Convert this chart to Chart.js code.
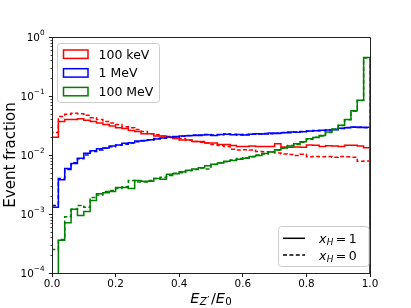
<!DOCTYPE html>
<html><head><meta charset="utf-8">
<script src="https://cdn.jsdelivr.net/npm/chart.js@4.4.0/dist/chart.umd.min.js"></script>
<style>html,body{margin:0;padding:0;background:#fff;}canvas{display:block;}</style>
</head><body>
<canvas id="c" width="411" height="308"></canvas>
<script>
// ---- data ----
const binEdges = [0.00,0.02,0.04,0.06,0.08,0.10,0.12,0.14,0.16,0.18,0.20,0.22,0.24,0.26,0.28,0.30,0.32,0.34,0.36,0.38,0.40,0.42,0.44,0.46,0.48,0.50,0.52,0.54,0.56,0.58,0.60,0.62,0.64,0.66,0.68,0.70,0.72,0.74,0.76,0.78,0.80,0.82,0.84,0.86,0.88,0.90,0.92,0.94,0.96,0.98,1.00];

const keV100_xH1 = [0.020,0.037,0.040,0.040,0.041,0.039,0.037,0.035,0.033,0.031,0.029,0.028,0.026,0.025,0.023,0.023,0.021,0.021,0.020,0.019,0.018,0.018,0.017,0.017,0.016,0.016,0.015,0.015,0.0145,0.014,0.014,0.0142,0.014,0.014,0.014,0.0155,0.0137,0.0135,0.0137,0.0135,0.0148,0.0146,0.014,0.0143,0.0142,0.014,0.0147,0.0147,0.0142,0.0133];
const keV100_xH0 = [0.024,0.045,0.049,0.051,0.050,0.047,0.043,0.040,0.037,0.035,0.033,0.030,0.029,0.027,0.025,0.023,0.022,0.021,0.0205,0.020,0.019,0.018,0.017,0.0165,0.016,0.015,0.0145,0.014,0.0125,0.0122,0.0123,0.0121,0.0115,0.0114,0.0113,0.0108,0.0104,0.0102,0.0098,0.0103,0.0093,0.0094,0.0093,0.0094,0.0092,0.0094,0.0093,0.0092,0.0078,0.0079];
const MeV1_xH1 = [0.0013,0.0038,0.0059,0.0072,0.0088,0.0107,0.0118,0.0128,0.0132,0.0142,0.0148,0.0158,0.0162,0.0172,0.0176,0.0182,0.0187,0.0195,0.0200,0.0205,0.0210,0.0212,0.0215,0.0218,0.0220,0.0215,0.0222,0.0225,0.0220,0.0222,0.0218,0.0225,0.0230,0.0228,0.0235,0.0232,0.0238,0.0245,0.0242,0.0248,0.0255,0.0258,0.0262,0.0265,0.0268,0.0285,0.0290,0.0298,0.0292,0.0295];
const MeV1_xH0 = [0.0014,0.0040,0.0057,0.0074,0.0086,0.0100,0.0115,0.0122,0.0130,0.0138,0.0147,0.0152,0.0160,0.0168,0.0172,0.0180,0.0190,0.0192,0.0198,0.0203,0.0208,0.0214,0.0218,0.0214,0.0222,0.0218,0.0220,0.0228,0.0224,0.0219,0.0222,0.0228,0.0226,0.0232,0.0230,0.0236,0.0240,0.0238,0.0246,0.0250,0.0252,0.0260,0.0258,0.0268,0.0272,0.0280,0.0292,0.0295,0.0298,0.0290];
const MeV100_xH1 = [0.00005,0.00036,0.00071,0.0012,0.00094,0.0011,0.0017,0.0022,0.0023,0.0024,0.0028,0.0028,0.0027,0.0037,0.0036,0.0036,0.0040,0.0039,0.0047,0.0048,0.0052,0.0055,0.0058,0.0061,0.0066,0.0070,0.0073,0.0078,0.0081,0.0085,0.0088,0.0094,0.0098,0.0106,0.0112,0.0123,0.0132,0.0142,0.0155,0.0168,0.0188,0.0198,0.0215,0.0245,0.0270,0.0320,0.0400,0.0560,0.0850,0.4500];
const MeV100_xH0 = [0.00025,0.00037,0.0009,0.0012,0.0014,0.0013,0.0019,0.0021,0.0024,0.0025,0.0027,0.0029,0.0037,0.0035,0.0035,0.0037,0.0040,0.0042,0.0045,0.0049,0.0050,0.0054,0.0057,0.0060,0.0058,0.0069,0.0074,0.0077,0.0082,0.0087,0.0090,0.0093,0.0100,0.0104,0.0114,0.0120,0.0130,0.0145,0.0150,0.0165,0.0185,0.0200,0.0210,0.0240,0.0275,0.0315,0.0395,0.0550,0.0840,0.4400];

const energyLabels = ['100 keV','1 MeV','100 MeV'];
const energyColors = ['#ff0000','#0000ff','#008000'];
const styleLabels = ['1','0'];            // x_H values
const xTickValues = [0,0.2,0.4,0.6,0.8,1.0];
const yDecades = [1e-4,1e-3,1e-2,1e-1,1];
const yDecadeExponents = ['\u22124','\u22123','\u22122','\u22121','0'];
const yMinorMantissas = [2,3,4,5,6,7,8,9];

// ---- helpers ----
const FONT = "'DejaVu Sans', sans-serif";
const FLOOR = 1e-6; // below axis: histogram outline returns to the baseline
function stepPoints(vals){
  const pts = [{x: binEdges[0], y: FLOOR}];
  vals.forEach((v,i)=>pts.push({x: binEdges[i], y: v}));
  const n = vals.length;
  pts.push({x: binEdges[n], y: vals[n-1]});
  pts.push({x: binEdges[n], y: FLOOR});
  return pts;
}
const DASH = [4, 2.4];
function ds(vals, color, dashed){
  return {data: stepPoints(vals), borderColor: color, borderWidth: 1.5,
    borderDash: dashed ? DASH : [], stepped: true, pointRadius: 0, fill: false,
    borderJoinStyle: 'miter', borderCapStyle: 'butt', tension: 0};
}

function drawParts(ctx, parts, x, baseline){
  let cx = x;
  for (const p of parts){
    ctx.font = p[1];
    ctx.fillText(p[0], cx, baseline + (p[2]||0));
    cx += ctx.measureText(p[0]).width + (p[3]||0);
  }
  return cx;
}
function partsWidth(ctx, parts){
  let w = 0;
  for (const p of parts){ ctx.font = p[1]; w += ctx.measureText(p[0]).width + (p[3]||0); }
  return w;
}

const decor = {
  id: 'decor',
  afterDatasetsDraw(chart){
    const ctx = chart.ctx, a = chart.chartArea;
    const ys = chart.scales.y;
    ctx.save();
    // spines
    ctx.strokeStyle = '#222'; ctx.lineWidth = 1; ctx.setLineDash([]);
    const L = Math.floor(a.left)+0.5, R = Math.floor(a.right)+0.5, T = Math.floor(a.top)+0.5, B = Math.floor(a.bottom)+0.5;
    ctx.beginPath(); ctx.rect(L, T, R-L, B-T); ctx.stroke();
    // y ticks (log)
    ctx.fillStyle = '#000'; ctx.strokeStyle = '#000';
    yDecades.forEach((d,k)=>{
      const y = Math.round(ys.getPixelForValue(d))+0.5;
      ctx.lineWidth = 0.9;
      ctx.beginPath(); ctx.moveTo(L, y); ctx.lineTo(L-3.6, y); ctx.stroke();
      if (k < yDecades.length-1){
        yMinorMantissas.forEach(m=>{
          const ym = Math.round(ys.getPixelForValue(m*d))+0.5;
          ctx.lineWidth = 0.7;
          ctx.beginPath(); ctx.moveTo(L, ym); ctx.lineTo(L-2.1, ym); ctx.stroke();
        });
      }
      const parts = [['10', '10.4px '+FONT, 0], [yDecadeExponents[k], '7.3px '+FONT, -5.4]];
      const w = partsWidth(ctx, parts);
      ctx.textBaseline = 'alphabetic'; ctx.textAlign = 'left';
      drawParts(ctx, parts, a.left - 7.4 - w, ys.getPixelForValue(d) + 3.8);
    });
    // y axis label
    ctx.save();
    ctx.translate(15, (a.top+a.bottom)/2);
    ctx.rotate(-Math.PI/2);
    ctx.font = '15px '+FONT; ctx.textAlign = 'center'; ctx.textBaseline = 'alphabetic';
    ctx.fillText('Event fraction', 0, 0);
    ctx.restore();
    // x axis label  E_{Z'}/E_0
    {
      const parts = [['E', 'italic 14.5px '+FONT, 0, 0.5], ['Z', 'italic 10.2px '+FONT, 2.4, 0.3], ['\u2032', '10.2px '+FONT, 0.5, 1.5],
                     ['/', '14.5px '+FONT, 0], ['E', 'italic 14.5px '+FONT, 0, 0.3], ['0', '10.2px '+FONT, 2.4]];
      const w = partsWidth(ctx, parts);
      ctx.textAlign = 'left';
      drawParts(ctx, parts, (a.left+a.right)/2 - w/2, 303);
    }
    // legend 1 (energies)
    ctx.fillStyle = 'rgba(255,255,255,0.8)'; ctx.strokeStyle = '#cccccc'; ctx.lineWidth = 1;
    ctx.beginPath(); ctx.roundRect(57.5, 43.5, 102, 59, 3); ctx.fill(); ctx.stroke();
    energyLabels.forEach((lab,i)=>{
      const cy = 54.2 + i*18.7;
      ctx.strokeStyle = energyColors[i]; ctx.lineWidth = 1.5;
      ctx.strokeRect(63.5, cy-4.2, 24.5, 8.4);
      ctx.fillStyle = '#000'; ctx.font = '12.5px '+FONT; ctx.textAlign='left'; ctx.textBaseline='alphabetic';
      ctx.fillText(lab, 98.5, cy + 4.55);
    });
    // legend 2 (line styles)
    ctx.fillStyle = 'rgba(255,255,255,0.8)'; ctx.strokeStyle = '#cccccc'; ctx.lineWidth = 1;
    ctx.beginPath(); ctx.roundRect(278.5, 226.5, 90.5, 40, 3); ctx.fill(); ctx.stroke();
    styleLabels.forEach((lab,i)=>{
      const cy = 238.3 + i*16.7;
      ctx.strokeStyle = '#000'; ctx.lineWidth = 1.5; ctx.setLineDash(i ? DASH : []);
      ctx.beginPath(); ctx.moveTo(283, cy); ctx.lineTo(305, cy); ctx.stroke();
      ctx.setLineDash([]);
      ctx.fillStyle = '#000'; ctx.textAlign='left'; ctx.textBaseline='alphabetic';
      drawParts(ctx, [['x','italic 12.5px '+FONT,0,0.3],['H','italic 8.8px '+FONT,2.2,2.5],['=','12.5px '+FONT,0,2.5],[lab,'12.5px '+FONT,0]], 319, cy+4.5);
    });
    ctx.restore();
  }
};

new Chart(document.getElementById('c'), {
  type: 'line',
  data: { datasets: [
    ds(MeV100_xH1, energyColors[2], false),
    ds(MeV100_xH0, energyColors[2], true),
    ds(MeV1_xH1, energyColors[1], false),
    ds(MeV1_xH0, energyColors[1], true),
    ds(keV100_xH1, energyColors[0], false),
    ds(keV100_xH0, energyColors[0], true)
  ]},
  options: {
    responsive: false, animation: false, devicePixelRatio: 1,
    layout: { padding: { left: 52, right: 41, top: 37, bottom: 0 } },
    plugins: { legend: { display: false }, tooltip: { enabled: false } },
    scales: {
      x: { type: 'linear', min: 0, max: 1, position: 'bottom',
        afterFit(s){ s.height = 35; },
        afterBuildTicks(s){ s.ticks = xTickValues.map(v=>({value: v})); },
        ticks: { callback: v => v.toFixed(1), font: { family: FONT, size: 10.4 }, color: '#000', padding: 1, maxRotation: 0, autoSkip: false },
        grid: { drawOnChartArea: false, drawTicks: true, tickLength: 4, color: '#000', tickWidth: 0.9 },
        border: { display: true, color: '#222', width: 1 } },
      y: { type: 'logarithmic', min: 1e-4, max: 1, display: false }
    }
  },
  plugins: [decor]
});
</script>
</body></html>
